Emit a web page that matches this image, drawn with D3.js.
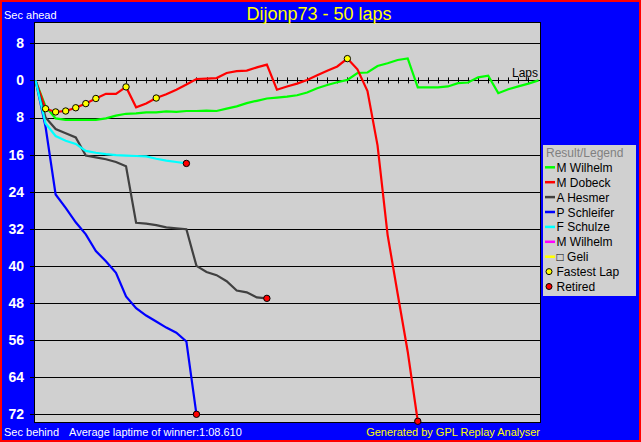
<!DOCTYPE html>
<html><head><meta charset="utf-8">
<script src="https://cdn.jsdelivr.net/npm/d3@7/dist/d3.min.js"></script>
<style>
body{margin:0;background:#ff0000;}
svg{display:block;font-family:"Liberation Sans",Arial,sans-serif;}
</style>
</head><body>
<svg id="c" width="641" height="442"></svg>
<script>
// ---------- data ----------
const chartTitle = "Dijonp73 - 50 laps";
const driverNames = ["M Wilhelm","M Dobeck","A Hesmer","P Schleifer","F Schulze","M Wilhelm","\u25A1 Geli"];
const lineColors = ["#00ff00","#ff0000","#404040","#0000ff","#00ffff","#ff00ff","#ffff00"];
// seconds ahead (+) / behind (-) of the winner's average pace, per lap from lap 0
const wilhelmGaps = [0,-5.6,-8.2,-8.5,-8.5,-8.5,-8.5,-8.2,-7.6,-7.2,-7.1,-6.9,-6.9,-6.7,-6.8,-6.6,-6.6,-6.5,-6.6,-6.1,-5.6,-4.9,-4.4,-3.9,-3.7,-3.5,-3.2,-2.6,-1.7,-1.0,-0.4,0.1,1.6,1.7,3.1,3.7,4.4,4.75,-1.5,-1.5,-1.5,-1.3,-0.6,-0.45,0.65,1.0,-2.75,-1.9,-1.3,-0.7,0];
const dobeckGaps = [0,-6.1,-6.8,-6.6,-5.9,-5.0,-3.9,-2.9,-2.9,-1.4,-5.8,-5.0,-3.8,-3.0,-2.0,-0.9,0.3,0.4,0.5,1.6,2.0,2.1,2.8,3.4,-2.0,-1.3,-0.7,0.1,1.1,2.1,3.0,4.7,2.4,-2.3,-14,-33.3,-46,-58.5,-73.5];
const hesmerGaps = [0,-8,-10.5,-11.4,-12.3,-16.2,-16.6,-17.0,-17.6,-18.5,-30.7,-30.9,-31.2,-31.7,-31.9,-32.1,-40,-41.3,-42,-43.3,-45.3,-45.7,-46.8,-47];
const schleiferGaps = [0,-10,-24.6,-27.5,-30.6,-33.2,-36.8,-39,-41.5,-46.6,-49.1,-50.7,-52,-53.3,-54.4,-56.3,-72];
const schulzeGaps = [0,-9.3,-12,-13,-13.7,-15.2,-15.6,-15.9,-16.1,-16.2,-16.3,-16.4,-16.9,-17.3,-17.6,-17.9];
const dobeckFastestLaps = [1,2,3,4,5,6,9,12,31];
const yTickValues = [8,0,-8,-16,-24,-32,-40,-48,-56,-64,-72];
const lapTickValues = d3.range(1,50);
const totalLaps = 50;
const avgLapText = "Average laptime of winner:1:08.610";
const generatedText = "Generated by GPL Replay Analyser";

const series = [
  {name: driverNames[0], color: lineColors[0], values: wilhelmGaps, retired: false},
  {name: driverNames[1], color: lineColors[1], values: dobeckGaps, retired: true},
  {name: driverNames[2], color: lineColors[2], values: hesmerGaps, retired: true},
  {name: driverNames[3], color: lineColors[3], values: schleiferGaps, retired: true},
  {name: driverNames[4], color: lineColors[4], values: schulzeGaps, retired: true}
];

// ---------- layout ----------
const svg = d3.select("#c");
svg.append("rect").attr("x",0).attr("y",0).attr("width",641).attr("height",442).attr("fill","#ff0000");
svg.append("rect").attr("x",2).attr("y",2).attr("width",637).attr("height",438).attr("fill","#0000ff");

const plot = {x0:34, x1:541, y0:22, y1:423};
const x = d3.scaleLinear().domain([0,totalLaps]).range([35.5,538.5]);
const y = d3.scaleLinear().domain([8,-72]).range([43.3,414.3]);

svg.append("rect").attr("x",plot.x0+0.5).attr("y",plot.y0+0.5)
  .attr("width",plot.x1-plot.x0-1).attr("height",plot.y1-plot.y0-1)
  .attr("fill","#d0d0d0").attr("stroke","#000").attr("stroke-width",1);

svg.append("clipPath").attr("id","clip").append("rect")
  .attr("x",plot.x0+1).attr("y",plot.y0+1).attr("width",plot.x1-plot.x0-2).attr("height",plot.y1-plot.y0-2);

// gridlines
const grid = svg.append("g").attr("transform",`translate(${plot.x0},0)`)
  .call(d3.axisLeft(y).tickValues(yTickValues.filter(d=>d!==0)).tickSize(-(plot.x1-plot.x0)).tickFormat(""));
grid.select(".domain").remove();
grid.selectAll("line").attr("stroke","#000").attr("shape-rendering","crispEdges");

// y axis labels + small outside ticks
const yAx = svg.append("g").attr("transform",`translate(${plot.x0},0)`)
  .call(d3.axisLeft(y).tickValues(yTickValues).tickSize(4).tickPadding(6).tickFormat(d=>Math.abs(d)));
yAx.select(".domain").remove();
yAx.selectAll("line").attr("stroke","#000").attr("shape-rendering","crispEdges");
yAx.selectAll("text").attr("fill","#fff").attr("font-size","14px").attr("font-weight","bold")
  .attr("font-family","'Liberation Sans',Arial,sans-serif");

// zero / laps axis
const lapAx = svg.append("g").attr("transform",`translate(0,${y(0)})`);
lapAx.append("line").attr("x1",plot.x0).attr("x2",plot.x1).attr("y1",0).attr("y2",0)
  .attr("stroke","#000").attr("shape-rendering","crispEdges");
lapAx.selectAll("line.t").data(lapTickValues).join("line").attr("class","t")
  .attr("x1",d=>Math.round(x(d))+0.5).attr("x2",d=>Math.round(x(d))+0.5).attr("y1",-3).attr("y2",3)
  .attr("stroke","#000");
svg.append("text").attr("x",538).attr("y",y(0)-3).attr("text-anchor","end")
  .attr("font-size","12px").attr("fill","#000").text("Laps");

// lines
const line = d3.line().x((d,i)=>x(i)).y(d=>y(d));
const lg = svg.append("g").attr("clip-path","url(#clip)");
series.forEach(s=>{
  lg.append("path").attr("d",line(s.values)).attr("fill","none")
    .attr("stroke",s.color).attr("stroke-width",2.2).attr("stroke-linejoin","miter");
});
// fastest lap markers
lg.selectAll("circle.fl").data(dobeckFastestLaps).join("circle").attr("class","fl")
  .attr("cx",d=>x(d)).attr("cy",d=>y(dobeckGaps[d])).attr("r",3.2)
  .attr("fill","#ffff00").attr("stroke","#000").attr("stroke-width",1);
// retired markers
series.filter(s=>s.retired).forEach(s=>{
  const i = s.values.length-1;
  svg.append("circle").attr("cx",x(i)).attr("cy",y(s.values[i])).attr("r",3.2)
    .attr("fill","#ff0000").attr("stroke","#000").attr("stroke-width",1);
});

// titles / texts
svg.append("text").attr("x",319).attr("y",19.5).attr("text-anchor","middle")
  .attr("font-size","18px").attr("fill","#ffff00").text(chartTitle);
svg.append("text").attr("x",4).attr("y",19).attr("font-size","11px").attr("fill","#fff").text("Sec ahead");
svg.append("text").attr("x",4).attr("y",435.5).attr("font-size","11px").attr("fill","#fff").text("Sec behind");
svg.append("text").attr("x",69).attr("y",435.5).attr("font-size","11px").attr("fill","#fff").text(avgLapText);
svg.append("text").attr("x",540).attr("y",435.5).attr("text-anchor","end").attr("font-size","11px").attr("fill","#ffff00").text(generatedText);

// legend
const leg = svg.append("g");
leg.append("rect").attr("x",543).attr("y",145).attr("width",93).attr("height",151).attr("fill","#d0d0d0");
leg.append("text").attr("x",546).attr("y",157).attr("font-size","12px").attr("fill","#808080").text("Result/Legend");
const legItems = driverNames.map((n,i)=>({label:n,color:lineColors[i],type:"line"}))
  .concat([{label:"Fastest Lap",color:"#ffff00",type:"dot"},{label:"Retired",color:"#ff0000",type:"dot"}]);
const legStartY = 167.3, legStep = 14.9;
legItems.forEach((it,i)=>{
  const cy = legStartY + i*legStep;
  if(it.type==="line"){
    leg.append("line").attr("x1",545).attr("x2",555).attr("y1",cy).attr("y2",cy)
      .attr("stroke",it.color).attr("stroke-width",2.5);
  } else {
    leg.append("circle").attr("cx",549).attr("cy",cy).attr("r",3)
      .attr("fill",it.color).attr("stroke","#000").attr("stroke-width",1);
  }
  leg.append("text").attr("x",556.5).attr("y",cy+4.5).attr("font-size","12px").attr("fill","#000").text(it.label);
});
</script>
</body></html>
